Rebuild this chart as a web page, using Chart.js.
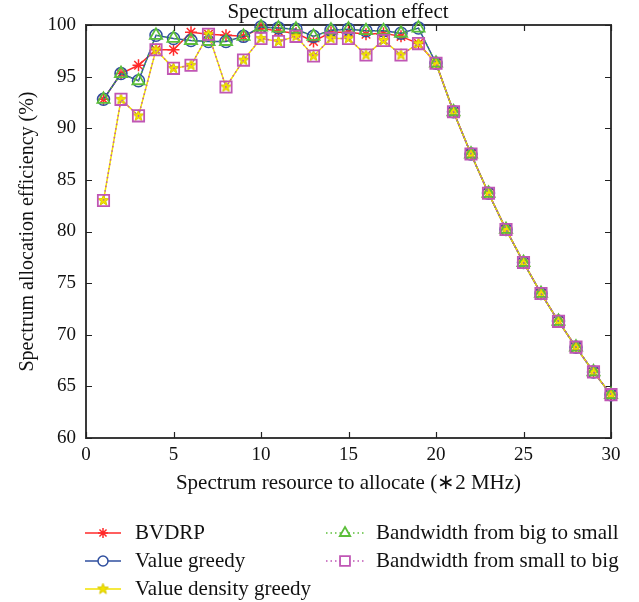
<!DOCTYPE html>
<html><head><meta charset="utf-8">
<script src="https://cdn.jsdelivr.net/npm/chart.js@4/dist/chart.umd.min.js"></script>
<style>html,body{margin:0;padding:0;background:#fff}#wrap{width:639px;height:602px}</style>
</head><body><div id="wrap"><canvas id="c" width="639" height="602"></canvas></div>
<script>
const chartTitle = "Spectrum allocation effect";
const xAxisTitle = "Spectrum resource to allocate (\u22172 MHz)";
const yAxisTitle = "Spectrum allocation efficiency (%)";
const xValues = [1,2,3,4,5,6,7,8,9,10,11,12,13,14,15,16,17,18,19,20,21,22,23,24,25,26,27,28,29,30];
const seriesNames = ["BVDRP","Value greedy","Value density greedy","Bandwidth from big to small","Bandwidth from small to big"];
const bvdrp = [92.8,95.3,96.1,97.6,97.6,99.3,99.1,99.0,98.9,99.7,99.4,99.2,98.4,99.3,99.3,99.1,99.2,98.9,98.2,96.3,91.6,87.5,83.7,80.2,77.0,74.0,71.3,68.8,66.4,64.2];
const valueGreedy = [92.8,95.3,94.6,99.0,98.7,98.5,98.4,98.4,98.9,99.8,99.7,99.6,98.9,99.5,99.6,99.45,99.45,99.2,99.7,96.3,91.6,87.5,83.7,80.2,77.0,74.0,71.3,68.8,66.4,64.2];
const valueDensityGreedy = [83.0,92.8,91.2,97.6,95.8,96.1,99.1,94.0,96.6,98.7,98.4,98.9,97.0,98.7,98.7,97.1,98.5,97.1,98.2,96.3,91.6,87.5,83.7,80.2,77.0,74.0,71.3,68.8,66.4,64.2];
const bigToSmall = [92.8,95.3,94.6,99.0,98.7,98.5,98.4,98.4,98.9,99.8,99.7,99.6,98.9,99.5,99.6,99.45,99.45,99.2,99.7,96.3,91.6,87.5,83.7,80.2,77.0,74.0,71.3,68.8,66.4,64.2];
const smallToBig = [83.0,92.8,91.2,97.6,95.8,96.1,99.1,94.0,96.6,98.7,98.4,98.9,97.0,98.7,98.7,97.1,98.5,97.1,98.2,96.3,91.6,87.5,83.7,80.2,77.0,74.0,71.3,68.8,66.4,64.2];
const xTicks = [0,5,10,15,20,25,30];
const yTicks = [60,65,70,75,80,85,90,95,100];

const FONT = "'Liberation Serif', 'Times New Roman', serif";
const RED = '#ff2a2a', BLUE = '#2f4f9f', YEL = '#f2e200', GRN = '#5cbf3a', MAG = '#c056b5';

function makeStar(){
  const s = 13, c = document.createElement('canvas');
  c.width = s; c.height = s;
  const g = c.getContext('2d');
  g.beginPath();
  for (let i=0;i<10;i++){
    const r = i%2===0 ? 5.8 : 2.4;
    const a = -Math.PI/2 + i*Math.PI/5;
    const px = s/2 + r*Math.cos(a), py = s/2 + r*Math.sin(a);
    if(i===0) g.moveTo(px,py); else g.lineTo(px,py);
  }
  g.closePath();
  g.fillStyle = YEL; g.fill();
  g.strokeStyle = '#d8c800'; g.lineWidth = 1; g.stroke();
  return c;
}
const starImg = makeStar();

const toPts = arr => xValues.map((x,i)=>({x:x, y:arr[i]}));

const datasets = [
  {label: seriesNames[0], data: toPts(bvdrp), borderColor: RED, backgroundColor: RED, borderWidth: 1.5,
   pointStyle: 'star', pointRadius: 6, pointBorderWidth: 1.5, pointBorderColor: RED, order: 5},
  {label: seriesNames[1], data: toPts(valueGreedy), borderColor: BLUE, backgroundColor: 'rgba(0,0,0,0)', borderWidth: 1.5,
   pointStyle: 'circle', pointRadius: 6, pointBorderWidth: 1.5, pointBorderColor: BLUE, order: 4},
  {label: seriesNames[2], data: toPts(valueDensityGreedy), borderColor: YEL, backgroundColor: YEL, borderWidth: 1.5,
   pointStyle: starImg, pointRadius: 6, order: 3},
  {label: seriesNames[3], data: toPts(bigToSmall), borderColor: GRN, backgroundColor: 'rgba(0,0,0,0)', borderWidth: 1.5,
   borderDash: [1.5,3], pointStyle: 'triangle', pointRadius: 7, pointBorderWidth: 1.8, pointBorderColor: GRN, order: 2},
  {label: seriesNames[4], data: toPts(smallToBig), borderColor: MAG, backgroundColor: 'rgba(0,0,0,0)', borderWidth: 1.5,
   borderDash: [1.5,3], pointStyle: 'rect', pointRadius: 8, pointBorderWidth: 1.8, pointBorderColor: MAG, order: 1}
];
datasets.forEach(d=>{ d.fill=false; d.tension=0; d.clip=false; d.pointHoverRadius=d.pointRadius; });

const framePlugin = {
  id: 'frame',
  beforeDatasetsDraw(chart){
    const {ctx, chartArea: a, scales} = chart;
    ctx.save();
    ctx.strokeStyle = '#3a3a3a'; ctx.lineWidth = 2;
    ctx.strokeRect(a.left, a.top, a.right-a.left, a.bottom-a.top);
    ctx.lineWidth = 1.2; ctx.strokeStyle = '#222';
    const tl = 6;
    ctx.beginPath();
    xTicks.forEach(v=>{
      const px = Math.round(scales.x.getPixelForValue(v))+0.5;
      ctx.moveTo(px, a.bottom); ctx.lineTo(px, a.bottom-tl);
      ctx.moveTo(px, a.top); ctx.lineTo(px, a.top+tl);
    });
    yTicks.forEach(v=>{
      const py = Math.round(scales.y.getPixelForValue(v))+0.5;
      ctx.moveTo(a.left, py); ctx.lineTo(a.left+tl, py);
      ctx.moveTo(a.right, py); ctx.lineTo(a.right-tl, py);
    });
    ctx.stroke();
    // chart title, centred over the plot like the reference
    ctx.fillStyle = '#111';
    ctx.font = "21px " + FONT;
    ctx.textAlign = 'center'; ctx.textBaseline = 'middle';
    ctx.fillText(chartTitle, 338, 12);
    ctx.restore();
  }
};

const legendPlugin = {
  id: 'customLegend',
  afterDraw(chart){
    const ctx = chart.ctx;
    const H = Chart.helpers;
    const items = [
      {ds: 0, lx1: 85, lx2: 121, mx: 103, tx: 135, y: 533},
      {ds: 1, lx1: 85, lx2: 121, mx: 103, tx: 135, y: 561},
      {ds: 2, lx1: 85, lx2: 121, mx: 103, tx: 135, y: 589},
      {ds: 3, lx1: 326, lx2: 364, mx: 345, tx: 376, y: 533},
      {ds: 4, lx1: 326, lx2: 364, mx: 345, tx: 376, y: 561}
    ];
    ctx.save();
    items.forEach(it=>{
      const d = datasets[it.ds];
      ctx.save();
      ctx.strokeStyle = d.borderColor; ctx.lineWidth = 1.5;
      ctx.setLineDash(d.borderDash || []);
      ctx.beginPath(); ctx.moveTo(it.lx1, it.y); ctx.lineTo(it.lx2, it.y); ctx.stroke();
      ctx.setLineDash([]);
      const r = d.pointRadius - 1;
      if (typeof d.pointStyle === 'string') {
        ctx.fillStyle = '#fff';
        ctx.strokeStyle = d.pointBorderColor || d.borderColor;
        ctx.lineWidth = d.pointBorderWidth || 1.5;
        if (H && H.drawPoint) {
          H.drawPoint(ctx, {pointStyle: d.pointStyle, radius: r, borderWidth: d.pointBorderWidth, rotation: 0}, it.mx, it.y);
        }
      } else {
        ctx.drawImage(d.pointStyle, it.mx - d.pointStyle.width/2, it.y - d.pointStyle.height/2);
      }
      ctx.restore();
      ctx.fillStyle = '#111';
      ctx.font = "21px " + FONT;
      ctx.textBaseline = 'middle'; ctx.textAlign = 'left';
      ctx.fillText(d.label, it.tx, it.y);
    });
    ctx.restore();
  }
};

new Chart(document.getElementById('c'), {
  type: 'line',
  data: { datasets },
  options: {
    responsive: false, animation: false, devicePixelRatio: 1,
    layout: { padding: { left: 0, right: 28, top: 25, bottom: 106 } },
    plugins: {
      legend: { display: false },
      tooltip: { enabled: false },
      title: { display: false }
    },
    scales: {
      x: {
        type: 'linear', min: 0, max: 30,
        afterBuildTicks: s => { s.ticks = xTicks.map(v=>({value:v})); },
        afterFit: s => { s.height = 58; },
        grid: { display: false, drawTicks: false },
        border: { display: false },
        ticks: { color: '#111', padding: 6, font: { family: FONT, size: 19 } },
        title: { display: true, text: xAxisTitle, color: '#111', font: { family: FONT, size: 21 }, padding: { top: 0, bottom: 0 } }
      },
      y: {
        type: 'linear', min: 60, max: 100,
        afterBuildTicks: s => { s.ticks = yTicks.map(v=>({value:v})); },
        afterFit: s => { s.width = 86; },
        grid: { display: false, drawTicks: false },
        border: { display: false },
        ticks: { color: '#111', padding: 10, font: { family: FONT, size: 19 } },
        title: { display: true, text: yAxisTitle, color: '#111', font: { family: FONT, size: 20 }, padding: { top: 16, bottom: 0 } }
      }
    }
  },
  plugins: [framePlugin, legendPlugin]
});
</script>
</body></html>
